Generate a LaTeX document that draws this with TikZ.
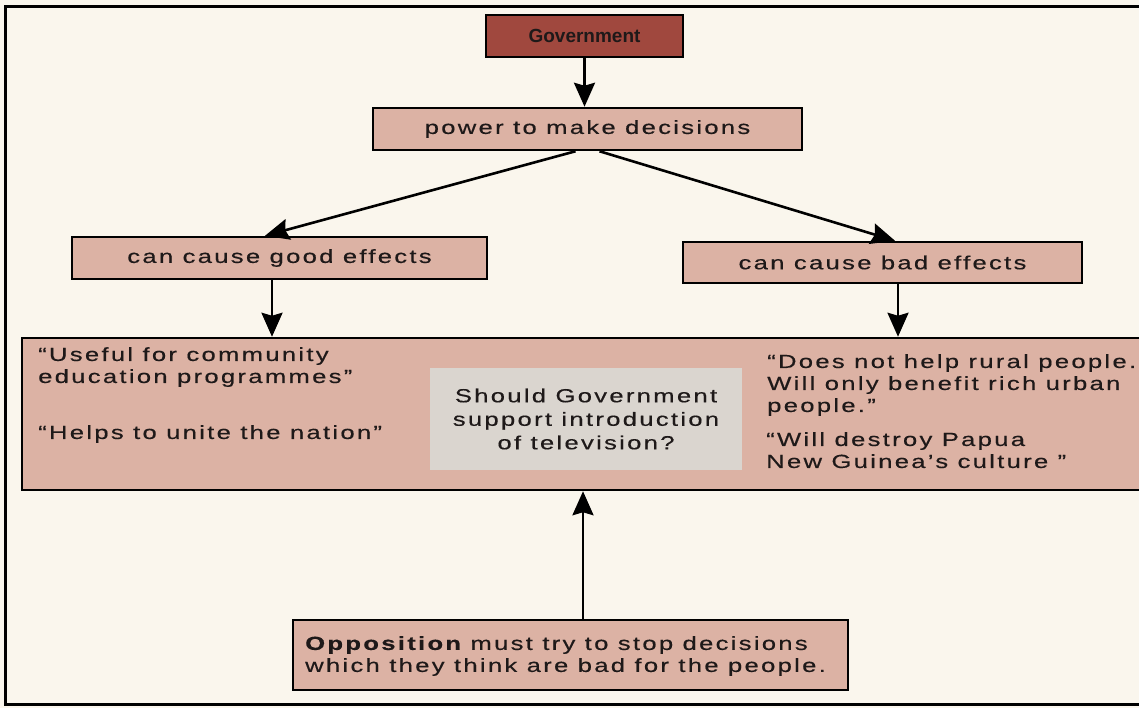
\documentclass[tikz,border=0pt]{standalone}
\usepackage{fontspec}
\setmainfont{Liberation Sans}[FakeStretch=1.35,LetterSpace=12,FakeBold=0.4]
\newfontfamily\govfont{Liberation Sans}
\usetikzlibrary{arrows.meta,calc}
\definecolor{paper}{RGB}{250,246,237}
\definecolor{boxfill}{RGB}{220,178,164}
\definecolor{govfill}{RGB}{160,72,62}
\definecolor{greyfill}{RGB}{218,213,207}
\definecolor{ink}{RGB}{30,25,25}
\begin{document}
\begin{tikzpicture}[x=1pt,y=1pt,
  box/.style={draw=black,line width=2.5pt,fill=boxfill,inner sep=0pt,text=ink,
    font=\fontsize{19}{22}\selectfont},
  txt/.style={inner sep=0pt,font=\fontsize{19}{22}\selectfont,align=left,text=ink},
  arr/.style={line width=2.6pt,-{Stealth[length=24pt,width=21pt,inset=3pt]}}]
\useasboundingbox (0,0) rectangle (1139,-708);
\begin{scope}
\clip (0,0) rectangle (1139,-708);
\fill[paper] (0,0) rectangle (1139,-708);
\draw[line width=3pt] (5,-7) rectangle (1150,-704);
\node[box,fill=govfill,minimum width=197pt,minimum height=42pt] (gov) at (584.5,-36)
  {\govfont\fontsize{19}{20}\selectfont\bfseries Government};
\node[box,minimum width=429pt,minimum height=42pt] (power) at (587.5,-129) {power to make decisions};
\node[box,minimum width=415pt,minimum height=42pt] (good) at (279.5,-258) {can cause good effects};
\node[box,minimum width=399pt,minimum height=41pt] (bad) at (882.5,-262.5) {can cause bad effects};
\node[box,minimum width=1128pt,minimum height=152pt] (mid) at (586,-414) {};
\node[fill=greyfill,minimum width=312pt,minimum height=102pt,inner sep=0pt,text=ink,
  font=\fontsize{19}{23.5}\selectfont,align=center] (q) at (586,-419)
  {Should Government\\support introduction\\of television?};
\node[box,minimum width=555pt,minimum height=70pt] (opp) at (570.5,-655) {};
\node[txt,anchor=west] (opptext) at (305,-656)
  {{\bfseries Opposition} must try to stop decisions\\which they think are bad for the people.};
\node[txt,anchor=north west] (l1) at (38,-347) {``Useful for community\\education programmes''};
\node[txt,anchor=north west] (l2) at (38,-425) {``Helps to unite the nation''};
\node[txt,anchor=north west] (r1) at (767,-354) {``Does not help rural people.\\Will only benefit rich urban\\people.''};
\node[txt,anchor=north west] (r2) at (766,-432) {``Will destroy Papua\\New Guinea's culture ''};
\draw[arr] (gov.south) -- (gov.south |- power.north);
\draw[arr] ([xshift=-12pt]power.south) -- ([xshift=-14.5pt]good.north);
\draw[arr] ([xshift=12pt]power.south) -- ([xshift=12.5pt]bad.north);
\draw[arr] ([xshift=-7.5pt]good.south) -- ([xshift=-7.5pt]good.south |- mid.north);
\draw[arr] ([xshift=15.5pt]bad.south) -- ([xshift=15.5pt]bad.south |- mid.north);
\draw[arr] ([xshift=12.5pt]opp.north) -- ([xshift=12.5pt]opp.north |- mid.south);
\end{scope}
\end{tikzpicture}
\end{document}
